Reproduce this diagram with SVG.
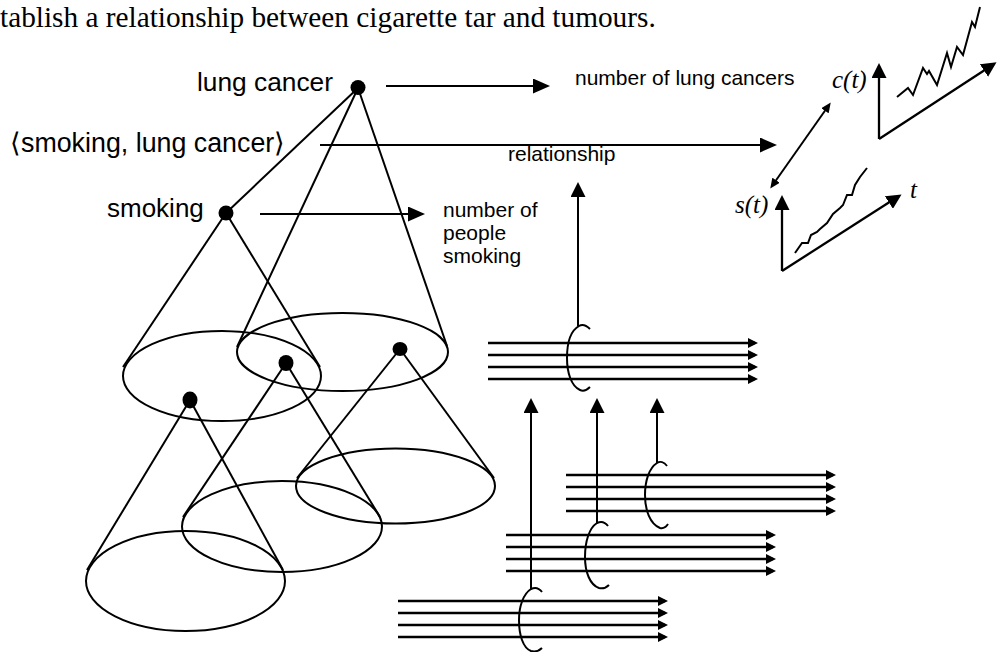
<svg xmlns="http://www.w3.org/2000/svg" width="1005" height="652" viewBox="0 0 1005 652">
<style>
.ln{stroke:#000;stroke-width:2;fill:none}
.bd{stroke:#000;stroke-width:2.3;fill:none}
.dot{fill:#000}
.sans{font-family:"Liberation Sans",Arial,sans-serif;fill:#000}
.serif{font-family:"Liberation Serif","Times New Roman",serif;fill:#000}
.it{font-family:"Liberation Serif","Times New Roman",serif;font-style:italic;fill:#000}
</style>
<defs>
<marker id="aBig" markerUnits="userSpaceOnUse" markerWidth="17" markerHeight="15" refX="14" refY="7.5" orient="auto"><path d="M0,0 L17,7.5 L0,15 Z" fill="#000"/></marker>
<marker id="aUp" markerUnits="userSpaceOnUse" markerWidth="15" markerHeight="15" refX="12" refY="7.5" orient="auto"><path d="M0,0 L15,7.5 L0,15 Z" fill="#000"/></marker>
<marker id="aSm" markerUnits="userSpaceOnUse" markerWidth="10" markerHeight="10" refX="7" refY="5" orient="auto"><path d="M0,0 L10,5 L0,10 Z" fill="#000"/></marker>
<marker id="aDbl" markerUnits="userSpaceOnUse" markerWidth="10" markerHeight="9" refX="7" refY="4.5" orient="auto-start-reverse"><path d="M0,0 L10,4.5 L0,9 Z" fill="#000"/></marker>
</defs>
<rect width="1005" height="652" fill="#fff"/>

<text class="serif" x="0" y="27" font-size="29.3">tablish a relationship between cigarette tar and tumours.</text>

<g id="node-lung-cancer">
<text class="sans" x="197" y="91" font-size="26.3">lung cancer</text>
<circle class="dot" cx="358" cy="87.5" r="7.5"/>
</g>
<g id="node-pair">
<text class="sans" x="10" y="152" font-size="26.8">⟨smoking, lung cancer⟩</text>
</g>
<g id="node-smoking">
<text class="sans" x="107" y="217" font-size="26">smoking</text>
<circle class="dot" cx="226" cy="213" r="7.5"/>
</g>
<g id="node-number-lung-cancers">
<text class="sans" x="575" y="85" font-size="21">number of lung cancers</text>
</g>
<g id="node-relationship">
<text class="sans" x="508" y="161" font-size="21">relationship</text>
</g>
<g id="node-number-people-smoking">
<text class="sans" x="443" y="217" font-size="21">number of</text>
<text class="sans" x="443" y="240" font-size="21">people</text>
<text class="sans" x="443" y="263" font-size="21">smoking</text>
</g>

<g id="node-cones">
<line class="ln" x1="358" y1="88" x2="226" y2="213"/>
<line class="ln" x1="358" y1="88" x2="237" y2="347"/>
<line class="ln" x1="358" y1="88" x2="447" y2="346"/>
<ellipse class="ln" cx="342.5" cy="352" rx="105.5" ry="39"/>
<line class="ln" x1="226" y1="213" x2="123" y2="367"/>
<line class="ln" x1="226" y1="213" x2="320" y2="367"/>
<ellipse class="ln" cx="222" cy="376" rx="99" ry="45"/>
<ellipse class="dot" cx="190" cy="400" rx="7.5" ry="8.5"/>
<ellipse class="dot" cx="286" cy="363" rx="7.5" ry="8"/>
<ellipse class="dot" cx="400" cy="349" rx="7.5" ry="7"/>
<line class="ln" x1="400" y1="349" x2="297" y2="478"/>
<line class="ln" x1="400" y1="349" x2="494" y2="478"/>
<ellipse class="ln" cx="395.5" cy="486" rx="99.5" ry="37.5"/>
<line class="ln" x1="286" y1="363" x2="183" y2="517"/>
<line class="ln" x1="286" y1="363" x2="380" y2="517"/>
<ellipse class="ln" cx="282" cy="526.5" rx="100" ry="45.5"/>
<line class="ln" x1="190" y1="400" x2="87" y2="570"/>
<line class="ln" x1="190" y1="400" x2="283" y2="570"/>
<ellipse class="ln" cx="185.5" cy="581" rx="99.5" ry="50"/>
</g>

<g id="node-chart-c">
<line class="bd" x1="879" y1="139" x2="879" y2="66" marker-end="url(#aUp)"/>
<line class="bd" x1="879" y1="139" x2="994" y2="64" marker-end="url(#aUp)"/>
<polyline class="ln" points="897,97 908,88 913,95 923,68 927,74 929,71 937,85 947,53 951,67 957,47 963,55 972,22 975,27 980,7"/>
<text class="it" x="832" y="88" font-size="25">c(t)</text>
</g>
<g id="node-chart-s">
<line class="bd" x1="782" y1="271" x2="782" y2="198" marker-end="url(#aUp)"/>
<line class="bd" x1="782" y1="271" x2="899" y2="196" marker-end="url(#aUp)"/>
<polyline class="ln" points="795,253 802,243 808,243 811,235 817,232 820,229 827,223 833,214 840,208 843,205 847,195 852,195 855,185 860,177 867,168"/>
<text class="it" x="735" y="213" font-size="25">s(t)</text>
<text class="it" x="910" y="198" font-size="25">t</text>
</g>

<g id="node-bundle-1">
<line class="bd" x1="488" y1="343" x2="755" y2="343" marker-end="url(#aSm)"/>
<line class="bd" x1="488" y1="355" x2="755" y2="355" marker-end="url(#aSm)"/>
<line class="bd" x1="488" y1="367" x2="755" y2="367" marker-end="url(#aSm)"/>
<line class="bd" x1="488" y1="379" x2="755" y2="379" marker-end="url(#aSm)"/>
<path class="ln" d="M590,329 C586,325 582,324 579,326 C570,331 567,345 567,358 C567,372 571,386 580,390 C584,392 587,390 590,387"/>
</g>
<g id="node-bundle-2">
<line class="bd" x1="566" y1="475" x2="833" y2="475" marker-end="url(#aSm)"/>
<line class="bd" x1="566" y1="487" x2="833" y2="487" marker-end="url(#aSm)"/>
<line class="bd" x1="566" y1="499" x2="833" y2="499" marker-end="url(#aSm)"/>
<line class="bd" x1="566" y1="511" x2="833" y2="511" marker-end="url(#aSm)"/>
<path class="ln" d="M667,466 C664,462 660,461 657,463 C649,468 645,481 645,495 C645,510 650,524 660,528 C664,529 666,527 668,524"/>
</g>
<g id="node-bundle-3">
<line class="bd" x1="506" y1="535" x2="773" y2="535" marker-end="url(#aSm)"/>
<line class="bd" x1="506" y1="547" x2="773" y2="547" marker-end="url(#aSm)"/>
<line class="bd" x1="506" y1="559" x2="773" y2="559" marker-end="url(#aSm)"/>
<line class="bd" x1="506" y1="571" x2="773" y2="571" marker-end="url(#aSm)"/>
<path class="ln" d="M608,526 C605,522 601,521 597,523 C589,528 585,542 585,557 C585,572 590,585 599,588 C603,589 606,588 609,585"/>
</g>
<g id="node-bundle-4">
<line class="bd" x1="398" y1="601" x2="665" y2="601" marker-end="url(#aSm)"/>
<line class="bd" x1="398" y1="613" x2="665" y2="613" marker-end="url(#aSm)"/>
<line class="bd" x1="398" y1="625" x2="665" y2="625" marker-end="url(#aSm)"/>
<line class="bd" x1="398" y1="637" x2="665" y2="637" marker-end="url(#aSm)"/>
<path class="ln" d="M542,592 C539,588 535,587 531,589 C523,594 519,607 519,620 C519,635 523,648 531,651 C535,652 539,651 542,648"/>
</g>

<g id="connectors">
<line class="ln" x1="386" y1="86" x2="547" y2="86" marker-end="url(#aBig)"/>
<line class="ln" x1="320" y1="145" x2="774" y2="145" marker-end="url(#aBig)"/>
<line class="ln" x1="260" y1="214" x2="422" y2="214" marker-end="url(#aBig)"/>
<line class="ln" x1="829" y1="105" x2="772" y2="186" stroke-width="1.6" marker-start="url(#aDbl)" marker-end="url(#aDbl)"/>
<line class="ln" x1="578" y1="326" x2="578" y2="185" marker-end="url(#aUp)"/>
<line class="ln" x1="657" y1="463" x2="657" y2="401" marker-end="url(#aUp)"/>
<line class="ln" x1="597" y1="523" x2="597" y2="401" marker-end="url(#aUp)"/>
<line class="ln" x1="531" y1="589" x2="531" y2="401" marker-end="url(#aUp)"/>
</g>
</svg>
